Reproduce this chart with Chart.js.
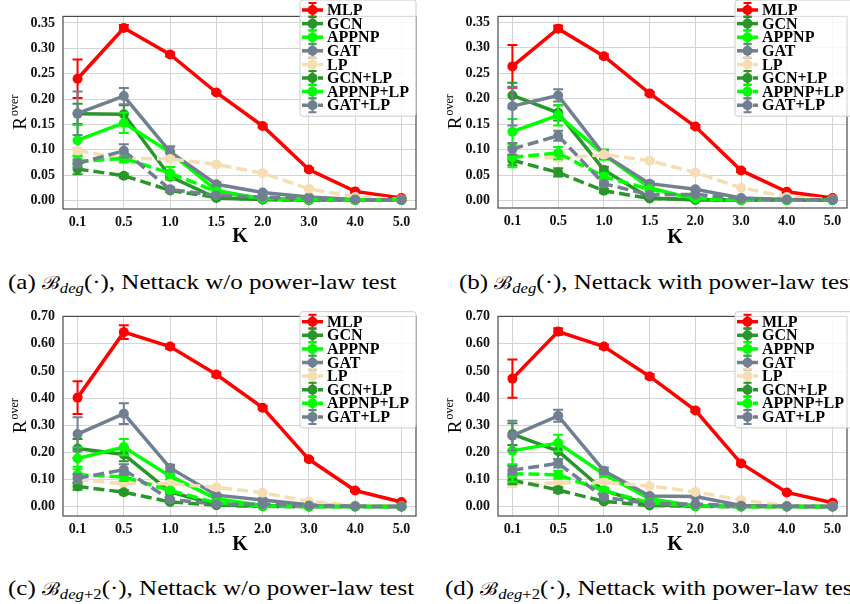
<!DOCTYPE html>
<html>
<head>
<meta charset="utf-8">
<script src="https://cdn.jsdelivr.net/npm/chart.js@4.4.0/dist/chart.umd.min.js"></script>
<style>
  html, body { margin: 0; padding: 0; background: #fff; width: 850px; height: 604px; overflow: hidden; position: relative; }
  .panel { position: absolute; }
  .cap { position: absolute; font-family: "Liberation Serif", "Times New Roman", serif; font-size: 21px; line-height: 26px; white-space: nowrap; color: #000; transform: scaleX(1.19); transform-origin: 0 50%; }
  .cap .b { font-family: "DejaVu Serif", serif; font-size: 18px; }
  .cap sub { font-size: 14px; vertical-align: -4px; line-height: 0; }
</style>
</head>
<body>

<div class="panel" style="left:0;top:0"><canvas id="chartA" width="425" height="250"></canvas></div>
<div class="panel" style="left:425px;top:0"><canvas id="chartB" width="427" height="250"></canvas></div>
<div class="panel" style="left:0;top:300px"><canvas id="chartC" width="425" height="260"></canvas></div>
<div class="panel" style="left:425px;top:300px"><canvas id="chartD" width="427" height="260"></canvas></div>

<div class="cap" style="left:8px;top:269px">(a) <span class="b">ℬ</span><sub><i>deg</i></sub>(·), Nettack w/o power-law test</div>
<div class="cap" style="left:459px;top:269px">(b) <span class="b">ℬ</span><sub><i>deg</i></sub>(·), Nettack with power-law test</div>
<div class="cap" style="left:8px;top:575px">(c) <span class="b">ℬ</span><sub><i>deg</i>+2</sub>(·), Nettack w/o power-law test</div>
<div class="cap" style="left:445px;top:575px">(d) <span class="b">ℬ</span><sub><i>deg</i>+2</sub>(·), Nettack with power-law test</div>

<script>
// Categories and series
const kLabels = ['0.1', '0.5', '1.0', '1.5', '2.0', '3.0', '4.0', '5.0'];
const seriesNames = ['MLP', 'GCN', 'APPNP', 'GAT', 'LP', 'GCN+LP', 'APPNP+LP', 'GAT+LP'];
const seriesColors = ['#ff0000', '#289628', '#00ff00', '#708090', '#f5deb3', '#289628', '#00ff00', '#708090'];
const seriesDashed = [false, false, false, false, true, true, true, true];

const yTicksDeg = [0, 0.05, 0.10, 0.15, 0.20, 0.25, 0.30, 0.35];
const yTicksDeg2 = [0, 0.10, 0.20, 0.30, 0.40, 0.50, 0.60, 0.70];

// one row per panel: (a), (b), (c), (d)
const mlp = [
    [0.240, 0.340, 0.288, 0.213, 0.147, 0.061, 0.018, 0.005],
    [0.263, 0.337, 0.283, 0.210, 0.145, 0.059, 0.017, 0.005],
    [0.402, 0.643, 0.590, 0.487, 0.365, 0.175, 0.060, 0.018],
    [0.472, 0.645, 0.590, 0.480, 0.355, 0.160, 0.053, 0.015]
];
const gcn = [
    [0.171, 0.170, 0.047, 0.005, 0.002, 0.001, 0.001, 0.001],
    [0.206, 0.172, 0.060, 0.005, 0.001, 0.001, 0.001, 0.001],
    [0.215, 0.193, 0.055, 0.008, 0.002, 0.001, 0.001, 0.001],
    [0.268, 0.205, 0.060, 0.008, 0.002, 0.001, 0.001, 0.001]
];
const appnp = [
    [0.119, 0.153, 0.095, 0.020, 0.003, 0.001, 0.001, 0.001],
    [0.135, 0.167, 0.090, 0.025, 0.002, 0.001, 0.001, 0.001],
    [0.178, 0.220, 0.113, 0.030, 0.005, 0.001, 0.001, 0.001],
    [0.207, 0.235, 0.120, 0.030, 0.003, 0.001, 0.001, 0.001]
];
const gat = [
    [0.172, 0.206, 0.096, 0.032, 0.016, 0.007, 0.002, 0.001],
    [0.185, 0.206, 0.090, 0.033, 0.022, 0.005, 0.002, 0.001],
    [0.268, 0.343, 0.143, 0.043, 0.025, 0.008, 0.002, 0.001],
    [0.262, 0.335, 0.133, 0.040, 0.038, 0.005, 0.002, 0.001]
];
const lp = [
    [0.098, 0.083, 0.082, 0.071, 0.054, 0.023, 0.007, 0.002],
    [0.087, 0.083, 0.090, 0.078, 0.055, 0.025, 0.007, 0.002],
    [0.100, 0.085, 0.085, 0.072, 0.052, 0.020, 0.005, 0.002],
    [0.085, 0.088, 0.090, 0.077, 0.055, 0.025, 0.005, 0.002]
];
const gcnLp = [
    [0.062, 0.049, 0.020, 0.006, 0.002, 0.001, 0.001, 0.001],
    [0.079, 0.055, 0.019, 0.004, 0.002, 0.001, 0.001, 0.001],
    [0.075, 0.054, 0.018, 0.006, 0.002, 0.001, 0.001, 0.001],
    [0.098, 0.062, 0.020, 0.005, 0.002, 0.001, 0.001, 0.001]
];
const appnpLp = [
    [0.077, 0.083, 0.054, 0.018, 0.004, 0.002, 0.001, 0.001],
    [0.085, 0.093, 0.047, 0.022, 0.004, 0.001, 0.001, 0.001],
    [0.118, 0.110, 0.060, 0.015, 0.003, 0.001, 0.001, 0.001],
    [0.122, 0.118, 0.060, 0.015, 0.003, 0.001, 0.001, 0.001]
];
const gatLp = [
    [0.073, 0.098, 0.022, 0.010, 0.007, 0.004, 0.002, 0.001],
    [0.101, 0.127, 0.033, 0.011, 0.012, 0.004, 0.002, 0.001],
    [0.105, 0.137, 0.027, 0.010, 0.010, 0.005, 0.002, 0.001],
    [0.135, 0.160, 0.035, 0.012, 0.010, 0.004, 0.002, 0.001]
];

// error bar half-lengths, same layout
const mlpErr = [
    [0.038, 0.006, 0.004, 0.003, 0.003, 0.003, 0.002, 0.001],
    [0.042, 0.006, 0.004, 0.003, 0.003, 0.003, 0.002, 0.001],
    [0.060, 0.025, 0.008, 0.008, 0.006, 0.005, 0.004, 0.002],
    [0.070, 0.012, 0.008, 0.008, 0.006, 0.005, 0.004, 0.002]
];
const gcnErr = [
    [0.020, 0.018, 0.005, 0.002, 0.001, 0, 0, 0],
    [0.025, 0.015, 0.006, 0.002, 0.001, 0, 0, 0],
    [0.035, 0.025, 0.008, 0.002, 0.001, 0, 0, 0],
    [0.040, 0.030, 0.010, 0.002, 0.001, 0, 0, 0]
];
const appnpErr = [
    [0.030, 0.020, 0.012, 0.004, 0.001, 0, 0, 0],
    [0.025, 0.020, 0.010, 0.004, 0.001, 0, 0, 0],
    [0.040, 0.030, 0.012, 0.004, 0.001, 0, 0, 0],
    [0.050, 0.030, 0.012, 0.004, 0.001, 0, 0, 0]
];
const gatErr = [
    [0.043, 0.016, 0.010, 0.004, 0.002, 0.001, 0, 0],
    [0.038, 0.012, 0.008, 0.004, 0.002, 0.001, 0, 0],
    [0.062, 0.038, 0.012, 0.005, 0.003, 0.001, 0, 0],
    [0.055, 0.022, 0.012, 0.005, 0.003, 0.001, 0, 0]
];
const lpErr = [
    [0.005, 0.005, 0.004, 0.003, 0.003, 0.002, 0.001, 0],
    [0.005, 0.005, 0.004, 0.003, 0.003, 0.002, 0.001, 0],
    [0.008, 0.005, 0.004, 0.003, 0.003, 0.002, 0.001, 0],
    [0.012, 0.005, 0.004, 0.003, 0.003, 0.002, 0.001, 0]
];
const gcnLpErr = [
    [0.010, 0.004, 0.003, 0.001, 0, 0, 0, 0],
    [0.010, 0.008, 0.004, 0.001, 0, 0, 0, 0],
    [0.012, 0.008, 0.004, 0.001, 0, 0, 0, 0],
    [0.015, 0.010, 0.005, 0.001, 0, 0, 0, 0]
];
const appnpLpErr = [
    [0.010, 0.008, 0.012, 0.003, 0.001, 0, 0, 0],
    [0.020, 0.012, 0.006, 0.003, 0.001, 0, 0, 0],
    [0.030, 0.015, 0.008, 0.003, 0.001, 0, 0, 0],
    [0.030, 0.015, 0.008, 0.003, 0.001, 0, 0, 0]
];
const gatLpErr = [
    [0.008, 0.013, 0.004, 0.002, 0.001, 0, 0, 0],
    [0.012, 0.010, 0.004, 0.002, 0.001, 0, 0, 0],
    [0.015, 0.020, 0.005, 0.002, 0.001, 0, 0, 0],
    [0.015, 0.015, 0.005, 0.002, 0.001, 0, 0, 0]
];

const allValues = [mlp, gcn, appnp, gat, lp, gcnLp, appnpLp, gatLp];
const allErrors = [mlpErr, gcnErr, appnpErr, gatErr, lpErr, gcnLpErr, appnpLpErr, gatLpErr];

const tickFont = { family: "'Liberation Serif', 'Times New Roman', serif", size: 14, weight: 'bold' };

// Error bars drawn just before each dataset's line
const errorBarPlugin = {
    id: 'errorBars',
    beforeDatasetDraw(chart, args) {
        const ds = chart.data.datasets[args.index];
        const ys = chart.scales.y;
        const ctx = chart.ctx;
        ctx.save();
        ctx.strokeStyle = ds.borderColor;
        ctx.lineWidth = 2;
        ctx.setLineDash([]);
        args.meta.data.forEach((pt, i) => {
            const e = ds.errors[i];
            if (!e) return;
            const v = ds.data[i].y;
            const y1 = ys.getPixelForValue(v - e);
            const y2 = ys.getPixelForValue(v + e);
            ctx.beginPath();
            ctx.moveTo(pt.x, y1); ctx.lineTo(pt.x, y2);
            ctx.moveTo(pt.x - 5, y1); ctx.lineTo(pt.x + 5, y1);
            ctx.moveTo(pt.x - 5, y2); ctx.lineTo(pt.x + 5, y2);
            ctx.stroke();
        });
        ctx.restore();
    }
};

// Axes frame, axis titles and the matplotlib-like legend
const figurePlugin = {
    id: 'figure',
    afterDraw(chart, args, cfg) {
        const ctx = chart.ctx;
        const area = chart.chartArea;
        const serif = "'Liberation Serif', 'Times New Roman', serif";

        ctx.save();
        ctx.strokeStyle = '#4a4a4a';
        ctx.lineWidth = 1.2;
        ctx.strokeRect(area.left, area.top, area.right - area.left, area.bottom - area.top);

        // x title
        ctx.fillStyle = '#000';
        ctx.font = 'bold 20px ' + serif;
        ctx.textAlign = 'center';
        ctx.textBaseline = 'middle';
        ctx.fillText('K', cfg.kX, cfg.kY);

        // y title R^over
        ctx.save();
        ctx.translate(cfg.yTitleX, (area.top + area.bottom) / 2);
        ctx.rotate(-Math.PI / 2);
        ctx.textAlign = 'left';
        ctx.textBaseline = 'alphabetic';
        ctx.font = '19px ' + serif;
        const rw = ctx.measureText('R').width;
        ctx.font = '12px ' + serif;
        const ow = ctx.measureText('over').width;
        const x0 = -(rw + ow) / 2;
        ctx.font = '19px ' + serif;
        ctx.fillText('R', x0, 6);
        ctx.font = '12px ' + serif;
        ctx.fillText('over', x0 + rw + 1, -2);
        ctx.restore();

        // legend
        const step = 13.6;
        const n = chart.data.datasets.length;
        const lx = cfg.legendX, ly = cfg.legendY;
        const top = ly - 10, bottom = ly + step * (n - 1) + 11;
        const right = cfg.legendRight;
        ctx.beginPath();
        ctx.roundRect(lx, top, right - lx, bottom - top, 3);
        ctx.fillStyle = 'rgba(255,255,255,0.8)';
        ctx.fill();
        ctx.strokeStyle = '#cccccc';
        ctx.lineWidth = 1;
        ctx.stroke();

        chart.data.datasets.forEach((ds, i) => {
            const y = ly + i * step;
            const cx = lx + 12.5;
            ctx.strokeStyle = ds.borderColor;
            ctx.lineWidth = 3.5;
            ctx.setLineDash(ds.borderDash);
            ctx.beginPath();
            ctx.moveTo(lx + 2, y); ctx.lineTo(lx + 23, y);
            ctx.stroke();
            ctx.setLineDash([]);
            ctx.lineWidth = 2;
            ctx.beginPath();
            ctx.moveTo(cx, y - 7); ctx.lineTo(cx, y + 7);
            ctx.moveTo(cx - 4, y - 7); ctx.lineTo(cx + 4, y - 7);
            ctx.moveTo(cx - 4, y + 7); ctx.lineTo(cx + 4, y + 7);
            ctx.stroke();
            ctx.fillStyle = ds.borderColor;
            ctx.beginPath();
            ctx.arc(cx, y, 5, 0, Math.PI * 2);
            ctx.fill();
            ctx.fillStyle = '#000';
            ctx.font = 'bold 16px ' + serif;
            ctx.textAlign = 'left';
            ctx.textBaseline = 'middle';
            ctx.fillText(ds.label, lx + 27, y + 1);
        });
        ctx.restore();
    }
};

function makeChart(id, panel, opt) {
    const canvas = document.getElementById(id);
    const W = canvas.width, H = canvas.height;

    const datasets = seriesNames.map((name, s) => ({
        label: name,
        data: allValues[s][panel].map((v, i) => ({ x: i, y: v })),
        errors: allErrors[s][panel],
        borderColor: seriesColors[s],
        backgroundColor: seriesColors[s],
        pointBackgroundColor: seriesColors[s],
        borderWidth: 3.5,
        borderDash: seriesDashed[s] ? [11, 5] : [],
        pointRadius: 5,
        pointHoverRadius: 5,
        pointBorderWidth: 0,
        tension: 0,
        order: seriesNames.length - s
    }));

    return new Chart(canvas, {
        type: 'line',
        data: { datasets },
        plugins: [errorBarPlugin, figurePlugin],
        options: {
            responsive: false,
            animation: false,
            events: [],
            layout: { padding: { left: 0, right: W - opt.right, top: opt.top, bottom: 0 } },
            plugins: {
                legend: { display: false },
                tooltip: { enabled: false },
                figure: opt.fig
            },
            scales: {
                x: {
                    type: 'linear',
                    min: -0.315,
                    max: kLabels.length - 1 + 0.315,
                    afterBuildTicks: (scale) => { scale.ticks = kLabels.map((_, i) => ({ value: i })); },
                    afterFit: (scale) => { scale.height = H - opt.bottom; },
                    ticks: {
                        callback: (v) => kLabels[v],
                        font: tickFont,
                        color: '#111',
                        padding: 5,
                        maxRotation: 0,
                        autoSkip: false
                    },
                    grid: { color: '#d4d4d4', lineWidth: 1, drawTicks: false },
                    border: { display: false }
                },
                y: {
                    min: opt.yMin,
                    max: opt.yMax,
                    afterBuildTicks: (scale) => { scale.ticks = opt.yTicks.map(v => ({ value: v })); },
                    afterFit: (scale) => { scale.width = opt.left; },
                    ticks: {
                        callback: (v) => v.toFixed(2),
                        font: tickFont,
                        color: '#111',
                        padding: 8
                    },
                    grid: { color: '#d4d4d4', lineWidth: 1, drawTicks: false },
                    border: { display: false }
                }
            }
        }
    });
}

makeChart('chartA', 0, {
    left: 63, right: 416, top: 4, bottom: 209,
    yMin: -0.0167, yMax: 0.363, yTicks: yTicksDeg,
    fig: { kX: 240, kY: 237, yTitleX: 20, legendX: 300, legendY: 10, legendRight: 416 }
});
makeChart('chartB', 1, {
    left: 73, right: 426, top: 3, bottom: 208,
    yMin: -0.0147, yMax: 0.361, yTicks: yTicksDeg,
    fig: { kX: 250, kY: 238, yTitleX: 30, legendX: 310, legendY: 10, legendRight: 432 }
});
makeChart('chartC', 2, {
    left: 63, right: 416, top: 13, bottom: 216,
    yMin: -0.0337, yMax: 0.701, yTicks: yTicksDeg2,
    fig: { kX: 240, kY: 245, yTitleX: 20, legendX: 300, legendY: 21.7, legendRight: 416 }
});
makeChart('chartD', 3, {
    left: 73, right: 426, top: 13, bottom: 216,
    yMin: -0.0337, yMax: 0.701, yTicks: yTicksDeg2,
    fig: { kX: 250, kY: 245, yTitleX: 30, legendX: 310, legendY: 21.7, legendRight: 432 }
});
</script>
</body>
</html>
